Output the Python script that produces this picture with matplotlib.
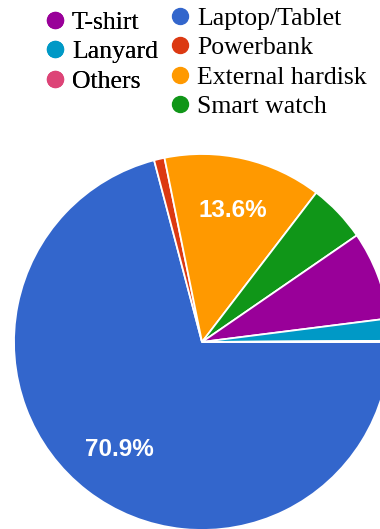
import matplotlib
matplotlib.use("Agg")
import matplotlib.pyplot as plt
from matplotlib.lines import Line2D

plt.rcParams["font.serif"] = ["Liberation Serif", "Tinos", "DejaVu Serif"]

# slices, clockwise from 3 o'clock
labels = ["Laptop/Tablet", "Powerbank", "External hardisk", "Smart watch",
          "T-shirt", "Lanyard", "Others"]
shares = [70.9, 0.9, 13.6, 5.0, 7.6, 1.9, 0.1]
colors = ["#3366cc", "#dc3912", "#ff9900", "#109618",
          "#990099", "#0099c6", "#dd4477"]

legend_left = ["T-shirt", "Lanyard", "Others"]
legend_right = ["Laptop/Tablet", "Powerbank", "External hardisk", "Smart watch"]

W, H = 380, 529
fig = plt.figure(figsize=(W / 100, H / 100), dpi=100)

# pie centre (202, 342) px from top-left, radius 188 px
cx, cy, r = 202, 342, 188
ax = fig.add_axes([(cx - r) / W, (H - cy - r) / H, 2 * r / W, 2 * r / H])
wedges, _, autotexts = ax.pie(
    shares, colors=colors, startangle=0, counterclock=False,
    autopct=lambda p: f"{p:.1f}%" if p > 10 else "",
    pctdistance=0.72,
    wedgeprops=dict(edgecolor="white", linewidth=1.3),
    textprops=dict(color="white", fontsize=17.5, fontweight="bold",
                   family="Liberation Sans"),
)
ax.set_xlim(-1, 1)
ax.set_ylim(-1, 1)
ax.set_aspect("equal")
ax.axis("off")

col = dict(zip(labels, colors))


def _legend(names, left_px, top_px):
    handles = [Line2D([], [], marker="o", linestyle="", markersize=11.5,
                      markerfacecolor=col[n], markeredgecolor=col[n])
               for n in names]
    leg = fig.legend(handles, names, loc="upper left",
                     bbox_to_anchor=(left_px / W, 1 - top_px / H),
                     frameon=False, borderpad=0, borderaxespad=0,
                     handlelength=0.8, handletextpad=0.26, labelspacing=0.25,
                     prop=dict(family="serif", size=18.5))
    return leg


fig.add_artist(_legend(legend_left, 44.7, 11))
_legend(legend_right, 170.2, 7)

fig.savefig("out.png", dpi=100, facecolor="white")
